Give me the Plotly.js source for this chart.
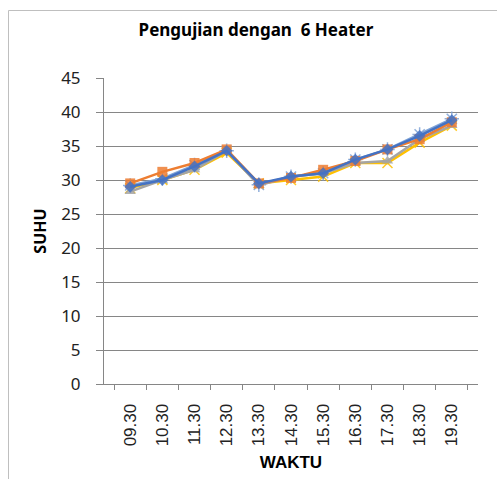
<!DOCTYPE html>
<html>
<head>
<meta charset="utf-8">
<script src="https://cdn.plot.ly/plotly-3.0.1.min.js"></script>
<style>
html,body{margin:0;padding:0;background:#fff;}
#chart{width:497px;height:479px;}
</style>
</head>
<body>
<div id="chart"></div>
<script>
const categories = ["09.30","10.30","11.30","12.30","13.30","14.30","15.30","16.30","17.30","18.30","19.30"];
const series1 = [29.0, 30.0, 32.0, 34.3, 29.5, 30.5, 31.0, 33.0, 34.5, 36.5, 38.8];
const series2 = [29.5, 31.2, 32.5, 34.5, 29.5, 30.3, 31.5, 32.8, 34.5, 36.0, 38.5];
const series3 = [28.3, 30.0, 31.5, 34.3, 29.2, 30.5, 31.0, 32.5, 32.8, 36.0, 38.0];
const series4 = [28.8, 30.0, 31.5, 34.0, 29.5, 30.0, 30.5, 32.5, 32.5, 35.5, 38.0];
const series5 = [29.2, 30.2, 32.2, 34.3, 29.3, 30.5, 31.0, 33.0, 34.5, 36.7, 39.0];
const seriesNames = ["Series1","Series2","Series3","Series4","Series5"];
const yTicks = [0,5,10,15,20,25,30,35,40,45];

const colors = ["#4472C4","#ED7D31","#A5A5A5","#FFC000","#7FA3D6"];
const symbols = ["diamond","square","triangle-up","x-thin","asterisk"];
const sizes = [9, 10, 10, 10, 12];
const allSeries = [series1, series2, series3, series4, series5];

const traces = allSeries.map((s, i) => ({
  type: "scatter",
  mode: "lines+markers",
  name: seriesNames[i],
  x: categories,
  y: s,
  line: {color: colors[i], width: 2.5},
  marker: {
    symbol: symbols[i],
    size: sizes[i],
    color: colors[i],
    opacity: 0.85,
    line: {color: colors[i], width: (i === 3 || i === 4) ? 1.5 : 0}
  }
}));
// draw the dark blue series on top, as in the reference
const ordered = [traces[4], traces[3], traces[2], traces[1], traces[0]];

// plot area: left 104, right 478, top 78, bottom 384 (px)
const L = 104, R = 478, T = 78, B = 384;
const pw = R - L, ph = B - T;
const px = v => (v - L) / pw;
const py = v => (B - v) / ph;

const layout = {
  width: 497,
  height: 479,
  margin: {l: L, r: 497 - R, t: T, b: 479 - B},
  paper_bgcolor: "#ffffff",
  plot_bgcolor: "#ffffff",
  showlegend: false,
  title: {
    text: "<b>Pengujian dengan  6 Heater</b>",
    font: {family: "Noto Sans, sans-serif", size: 17, color: "#000"},
    x: 0.515, xanchor: "center",
    y: 1 - 30/479, yanchor: "middle"
  },
  xaxis: {
    type: "category",
    tickson: "boundaries",
    ticks: "outside",
    ticklen: 5,
    tickcolor: "#868686",
    tickwidth: 1,
    tickangle: -90,
    ticklabelstandoff: 12,
    tickfont: {family: "Liberation Sans, Arial, sans-serif", size: 17, color: "#222"},
    showline: true,
    linecolor: "#868686",
    linewidth: 1,
    showgrid: false,
    zeroline: false,
    automargin: false,
    title: {
      text: "<b>WAKTU</b>",
      font: {family: "Liberation Sans, Arial, sans-serif", size: 17, color: "#000"},
      standoff: 10
    }
  },
  yaxis: {
    range: [0, 45],
    tickvals: yTicks,
    ticktext: yTicks.map(String),
    ticks: "outside",
    ticklen: 7,
    tickcolor: "#868686",
    tickwidth: 1,
    ticklabelstandoff: 12,
    tickfont: {family: "Noto Sans, sans-serif", size: 17, color: "#222"},
    showline: true,
    linecolor: "#868686",
    linewidth: 1,
    showgrid: true,
    gridcolor: "#868686",
    gridwidth: 1,
    zeroline: false,
    automargin: false,
    title: {
      text: "<b>SUHU</b>",
      font: {family: "Noto Sans, sans-serif", size: 16, color: "#000"},
      standoff: 10
    }
  },
  shapes: [
    {type: "line", xref: "paper", yref: "paper", x0: px(8.5), x1: px(8.5), y0: py(10.5), y1: py(480), line: {color: "#BFBFBF", width: 1}},
    {type: "line", xref: "paper", yref: "paper", x0: px(8.5), x1: px(498), y0: py(10.5), y1: py(10.5), line: {color: "#BFBFBF", width: 1}}
  ]
};

Plotly.newPlot("chart", ordered, layout, {displayModeBar: false, staticPlot: true});
</script>
</body>
</html>
